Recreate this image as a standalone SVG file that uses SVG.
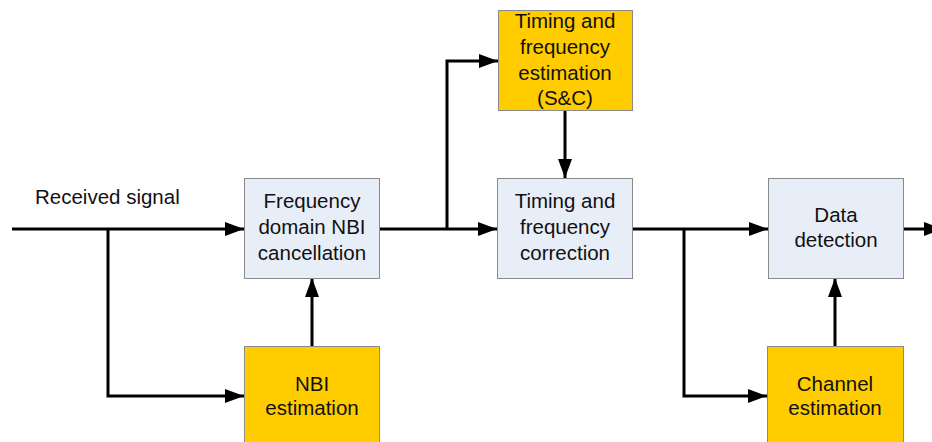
<svg xmlns="http://www.w3.org/2000/svg" width="932" height="442" viewBox="0 0 932 442">
<style>
.blue{fill:#e8eef8;stroke:#8a8a8a;stroke-width:1}
.orange{fill:#ffcc00;stroke:#8a8a8a;stroke-width:1}
text{font-family:"Liberation Sans",Arial,sans-serif;font-size:20.5px;fill:#111}
.c{text-anchor:middle}
.w{fill:none;stroke:#000;stroke-width:3}
</style>
<defs>
<marker id="ah" markerWidth="19" markerHeight="14" refX="19" refY="7" orient="auto" markerUnits="userSpaceOnUse">
<path d="M0,0 L19,7 L0,14 Z" fill="#000"/>
</marker>
</defs>
<rect width="932" height="442" fill="#fff"/>
<text x="35" y="204">Received signal</text>
<g id="connectors">
<path class="w" d="M12,229 H244" marker-end="url(#ah)"/>
<path class="w" d="M108,229 V396 H244" marker-end="url(#ah)"/>
<path class="w" d="M312,346 V278" marker-end="url(#ah)"/>
<path class="w" d="M379,229 H497" marker-end="url(#ah)"/>
<path class="w" d="M447,229 V61 H498" marker-end="url(#ah)"/>
<path class="w" d="M565,110 V178" marker-end="url(#ah)"/>
<path class="w" d="M633,229 H768" marker-end="url(#ah)"/>
<path class="w" d="M684,229 V396 H767" marker-end="url(#ah)"/>
<path class="w" d="M835,346 V278" marker-end="url(#ah)"/>
<path class="w" d="M903,229 H943" marker-end="url(#ah)"/>
</g>
<g id="fdnbi">
<rect class="blue" x="244.5" y="178.5" width="135" height="100"/>
<text class="c" x="312" y="208">Frequency</text>
<text class="c" x="312" y="234">domain NBI</text>
<text class="c" x="312" y="260">cancellation</text>
</g>
<g id="sc">
<rect class="orange" x="498.5" y="10.5" width="134" height="100"/>
<text class="c" x="565" y="28">Timing and</text>
<text class="c" x="565" y="54">frequency</text>
<text class="c" x="565" y="80">estimation</text>
<text class="c" x="565" y="105">(S&amp;C)</text>
</g>
<g id="tfc">
<rect class="blue" x="497.5" y="178.5" width="135" height="100"/>
<text class="c" x="565" y="208">Timing and</text>
<text class="c" x="565" y="234">frequency</text>
<text class="c" x="565" y="260">correction</text>
</g>
<g id="dd">
<rect class="blue" x="768.5" y="178.5" width="135" height="100"/>
<text class="c" x="836" y="222">Data</text>
<text class="c" x="836" y="247">detection</text>
</g>
<g id="nbi">
<rect class="orange" x="244.5" y="346.5" width="135" height="100"/>
<text class="c" x="312" y="391">NBI</text>
<text class="c" x="312" y="415">estimation</text>
</g>
<g id="ce">
<rect class="orange" x="767.5" y="346.5" width="136" height="100"/>
<text class="c" x="835" y="391">Channel</text>
<text class="c" x="835" y="415">estimation</text>
</g>
</svg>
